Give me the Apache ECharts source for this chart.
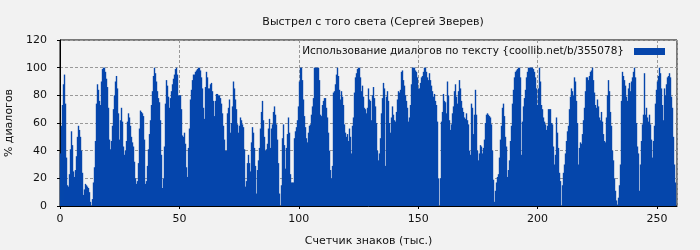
<!DOCTYPE html>
<html><head><meta charset="utf-8">
<script src="https://cdn.jsdelivr.net/npm/echarts@6/dist/echarts.min.js"></script>
<style>html,body{margin:0;padding:0;background:#f2f2f2}#c{width:700px;height:250px}</style>
</head><body><div id="c"></div>
<script>
const chartTitle = 'Выстрел с того света (Сергей Зверев)';
const seriesName = 'Использование диалогов по тексту {coollib.net/b/355078}';
const xAxisName = 'Счетчик знаков (тыс.)';
const yAxisName = '% диалогов';
const xMax = 258.4;          // thousand characters
const yTicks = [0, 20, 40, 60, 80, 100, 120];
const xTicks = [0, 50, 100, 150, 200, 250];

// % dialogue, read left to right across the text
const part1 = [38,58,73,88,95,74,35,15,14,23,41,54,44,25,21,26,36,50,58,55,50,40,24,8,12,16,15,14,13,10,3,0,5,17,28,47,74,88,84,76,73,90,99,100,100,97,92,86,71,48,41,47,58,70,80,90,94,85,67,48,62,71,61,43,37,40,47,61,67,64,58,50,46,43,32,20,16,18,31,56,69,68,67,65,48,16,18,29,41,52,62,73,83,94,100,96,90,83,78,75,62,37];
const part2 = [13,20,43,74,91,87,79,71,78,83,88,92,95,99,100,95,80,80,80,70,51,50,53,45,28,21,42,56,77,84,91,95,95,97,98,99,100,100,98,93,85,71,63,86,97,93,85,85,88,89,83,76,65,76,81,81,80,80,78,74,67,58,48,40,40,67,71,77,53,60,72,90,85,77,70,59,53,58,64,62,59,57,41,14,18,31,37,31,25,46,57,53,42,29,9,26,33,42,56,68,76,62,50];
const part3 = [40,41,45,56,63,42,56,59,68,72,66,59,48,31,9,0,15,49,59,44,27,42,52,64,53,23,17,17,17,49,54,57,62,72,90,100,100,91,77,65,57,49,46,53,58,59,66,72,78,100,100,100,100,100,91,66,65,73,76,78,78,71,64,53,40,26,20,29,82,83,88,95,100,94,84,77,83,79,73,59,53,50,52,47,56,50,38,58,64,82,93,96,99,100,100,93,83,87,79,71,70,67,71];
const part4 = [85,77,76,62,80,86,78,72,60,40,33,38,49,67,78,89,85,29,79,83,76,60,53,64,72,66,62,61,68,77,83,82,84,97,98,91,87,80,76,71,61,64,73,88,100,100,100,98,97,93,85,85,89,93,94,97,100,100,97,93,91,96,91,87,83,79,81,76,73,61,20,0,20,61,68,81,76,75,67,90,80,62,55,59,67,72,83,88,79,74,83,91,85,76,71,68,64,63,67,62,59,40,37];
const part5 = [74,71,52,66,84,66,40,33,38,44,43,38,42,48,60,66,67,66,65,64,59,40,19,3,11,17,21,23,35,48,58,71,74,65,50,43,21,26,33,47,58,74,84,93,97,98,99,100,100,93,37,61,72,78,84,93,97,100,100,100,100,100,99,97,93,85,73,85,100,90,73,70,64,61,59,55,58,70,70,70,60,59,43,30,37,64,53,42,24,18,0,15,24,30,38,47,54,58,70,79,85,83,80];
const part6 = [93,90,76,60,30,42,46,45,52,62,71,83,93,93,91,94,97,98,100,91,82,73,71,77,72,64,62,68,61,52,47,46,64,80,91,83,68,58,40,33,20,11,4,1,6,15,30,76,97,94,91,87,79,76,85,89,83,90,93,97,100,93,60,43,38,11,30,47,59,66,96,66,71,64,61,66,59,48,35,47,58,74,84,90,94,100,96,85,73,62,85,80,88,93,94,96,93,79,71,50,30,17];

const values = [].concat(part1, part2, part3, part4, part5, part6);
const step = xMax / (values.length + 1);
const data = values.map((v, i) => [(i + 0.5) * step, v]);

const font = 'DejaVu Sans';
const chart = echarts.init(document.getElementById('c'), null, {renderer: 'canvas'});
chart.setOption({
  backgroundColor: '#f2f2f2',
  animation: false,
  title: {
    text: chartTitle, left: 368, top: 12, textAlign: 'center',
    textStyle: {fontFamily: font, fontSize: 11, fontWeight: 'normal', color: '#111'}
  },
  legend: {
    data: [seriesName], right: 30, top: 41, align: 'right',
    icon: 'rect', itemWidth: 31, itemHeight: 7,
    textStyle: {fontFamily: font, fontSize: 10.5, color: '#111', padding: [0, 5, 0, 0]}
  },
  grid: {left: 60, right: 23, top: 40, bottom: 44, show: true, borderColor: '#000', borderWidth: 1,
    backgroundColor: 'transparent', containLabel: false, outerBoundsMode: 'none'},
  xAxis: {
    type: 'value', min: 0, max: xMax, interval: 50,
    name: xAxisName, nameLocation: 'middle', nameGap: 30,
    nameTextStyle: {fontFamily: font, fontSize: 11, color: '#111'},
    axisLine: {show: true, lineStyle: {color: '#000'}},
    axisTick: {show: true, length: 3, lineStyle: {color: '#000'}},
    axisLabel: {fontFamily: font, fontSize: 11, color: '#111', margin: 8, showMaxLabel: false,
      formatter: v => xTicks.includes(v) ? String(v) : ''},
    splitLine: {show: true, lineStyle: {color: '#999', type: [3, 2]}}
  },
  yAxis: {
    type: 'value', min: 0, max: 120, interval: 20,
    name: yAxisName, nameLocation: 'middle', nameGap: 45,
    nameTextStyle: {fontFamily: font, fontSize: 11, color: '#111'},
    axisLine: {show: true, lineStyle: {color: '#000'}},
    axisTick: {show: true, length: 3, lineStyle: {color: '#000'}},
    axisLabel: {fontFamily: font, fontSize: 11, color: '#111', margin: 13,
      formatter: v => yTicks.includes(v) ? String(v) : ''},
    splitLine: {show: true, lineStyle: {color: '#999', type: [3, 2]}}
  },
  series: [{
    name: seriesName, type: 'bar', data: data, barWidth: 1.4,
    itemStyle: {color: '#0646ac'}, large: false
  }]
});
</script>
</body></html>
